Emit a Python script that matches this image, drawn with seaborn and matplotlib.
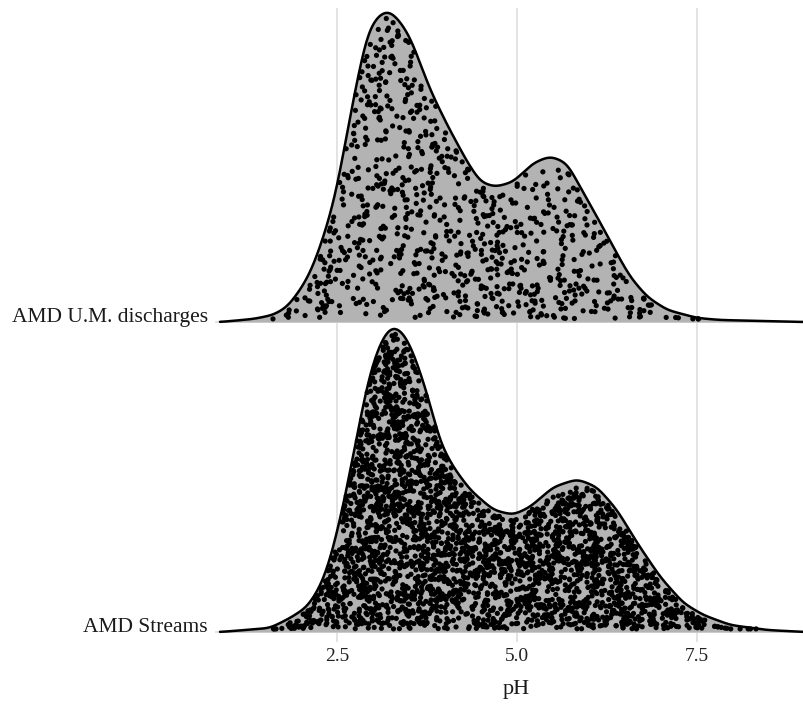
import numpy as np
import pandas as pd
import matplotlib
matplotlib.use("Agg")
import matplotlib.pyplot as plt
import seaborn as sns

# ---- data ----
groups = ["AMD Streams", "AMD U.M. discharges"]
n_points = [3000, 850]

# density curves (pH, height in px; 310 px = spacing between ridges)
streams_ph = [0.875, 1.569, 1.847, 2.083, 2.264, 2.403, 2.514, 2.611, 2.708, 2.819,
              2.931, 3.056, 3.194, 3.306, 3.444, 3.583, 3.764, 3.931, 4.111, 4.347,
              4.667, 4.944, 5.181, 5.5, 5.833, 6.111, 6.389, 6.667, 6.986, 7.306,
              7.583, 7.958, 8.472, 8.986]
streams_h = [0, 4, 14, 25, 45, 72, 105, 135, 172, 212,
             252, 282, 302, 306, 297, 275, 235, 189, 165, 142,
             122, 117, 125, 145, 153, 145, 122, 89, 55, 29,
             17, 7, 2, 0]

um_ph = [0.875, 1.333, 1.611, 1.806, 1.986, 2.125, 2.264, 2.403, 2.5, 2.569,
         2.722, 2.917, 3.06, 3.208, 3.35, 3.514, 3.792, 4.028, 4.306, 4.486,
         4.694, 4.944, 5.222, 5.458, 5.694, 5.875, 6.111, 6.333, 6.569, 6.806,
         7.083, 7.5, 7.819, 8.986]
um_h = [0, 3, 7, 15, 32, 49, 75, 107, 135, 162,
        222, 289, 306, 312, 303, 285, 232, 197, 160, 140,
        135, 140, 159, 166, 159, 135, 105, 75, 45, 25,
        12, 4, 2, 0]

# range of the jittered sample points
streams_pt_range = (1.6, 8.4)
um_pt_range = (1.45, 7.6)

tick_values = [2.5, 5.0, 7.5]
tick_labels = ["2.5", "5.0", "7.5"]
x_label = "pH"

SPACING_PX = 310.0
curves = {
    "AMD Streams": (np.array(streams_ph), np.array(streams_h) / SPACING_PX, streams_pt_range),
    "AMD U.M. discharges": (np.array(um_ph), np.array(um_h) / SPACING_PX, um_pt_range),
}


def smooth_curve(ph, h):
    grid = np.linspace(ph[0], ph[-1], 1200)
    hg = np.interp(grid, ph, h)
    dx = grid[1] - grid[0]
    sig = 0.07
    kx = np.arange(-4 * sig, 4 * sig + dx, dx)
    ker = np.exp(-0.5 * (kx / sig) ** 2)
    ker /= ker.sum()
    pad = len(kx) // 2
    hp = np.pad(hg, pad, mode="edge")
    hs = np.convolve(hp, ker, mode="valid")[: len(grid)]
    return grid, hs


def hash01(i, salt):
    x = i.astype(np.uint64) * np.uint64(0x9E3779B97F4A7C15) + np.uint64(salt)
    x ^= x >> np.uint64(30)
    x *= np.uint64(0xBF58476D1CE4E5B9)
    x ^= x >> np.uint64(27)
    x *= np.uint64(0x94D049BB133111EB)
    x ^= x >> np.uint64(31)
    return (x >> np.uint64(11)).astype(np.float64) / float(2 ** 53)


def place_points(grid, hs, n, rng_range, salt):
    m = (grid >= rng_range[0]) & (grid <= rng_range[1])
    g, hg = grid[m], hs[m]
    cdf = np.concatenate([[0], np.cumsum((hg[1:] + hg[:-1]) / 2 * np.diff(g))])
    cdf /= cdf[-1]
    i = np.arange(n)
    u = hash01(i, salt)
    v = hash01(i, salt + 7919)
    xs = np.interp(u, cdf, g)
    hx = np.interp(xs, grid, hs)
    ys = 0.010 + v * np.clip(hx - 0.025, 0, None)
    return xs, ys


sns.set_theme(style="white")
plt.rcParams["font.family"] = ["Liberation Serif", "DejaVu Serif"]

W, H = 804, 704
fig = plt.figure(figsize=(W / 100, H / 100), dpi=100)
left_px, right_px, top_px, bot_px = 215, 804, 8, 642
ax = fig.add_axes([left_px / W, (H - bot_px) / H, (right_px - left_px) / W, (bot_px - top_px) / H])

xmin = 2.5 - (337 - left_px) / 72.0
xmax = 2.5 + (right_px - 337) / 72.0
ax.set_xlim(xmin, xmax)
ax.set_ylim((632 - bot_px) / SPACING_PX, (632 - top_px) / SPACING_PX)

grid_col = "#e3e3e3"
for t in tick_values:
    ax.axvline(t, color=grid_col, lw=1.4, zorder=0)
for k in range(len(groups)):
    ax.axhline(k, color=grid_col, lw=1.4, zorder=0)

fill_col = "#b3b3b3"
for k in [1, 0]:
    name = groups[k]
    ph, h, prange = curves[name]
    grid, hs = smooth_curve(ph, h)
    z = 2 + (1 - k) * 3
    ax.fill_between(grid, k, k + hs, color=fill_col, lw=0, zorder=z)
    xs, ys = place_points(grid, hs, n_points[k], prange, 1234 + 101 * k)
    df = pd.DataFrame({"pH": xs, "y": ys + k})
    sns.scatterplot(data=df, x="pH", y="y", ax=ax, color="black", s=14,
                    linewidth=0, edgecolor="none", zorder=z + 1, legend=False)
    line_df = pd.DataFrame({"pH": grid, "y": hs + k})
    sns.lineplot(data=line_df, x="pH", y="y", ax=ax, color="black", lw=1.8,
                 zorder=z + 2, sort=False, estimator=None)

for s in ax.spines.values():
    s.set_visible(False)
ax.set_xticks(tick_values)
ax.set_xticklabels(tick_labels, fontsize=14, color="#222222")
ax.tick_params(axis="x", length=0, pad=4)
ax.set_yticks([])
ax.set_xlabel("")
ax.set_ylabel("")

trans = matplotlib.transforms.blended_transform_factory(fig.transFigure, ax.transData)
for k, name in enumerate(groups):
    ax.text(208 / W, k, name, transform=trans, ha="right", va="baseline",
            fontsize=15.5, color="#1a1a1a")

fig.text(516 / W, 1 - 694 / H, x_label, ha="center", va="baseline", fontsize=16, color="#1a1a1a")

fig.savefig("out.png", dpi=100, facecolor="white")
